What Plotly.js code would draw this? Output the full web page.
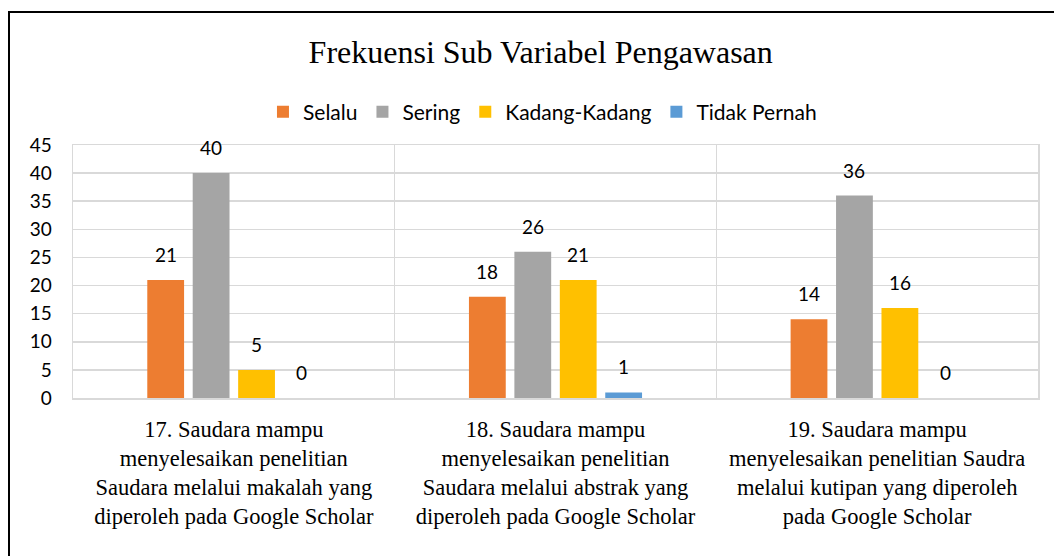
<!DOCTYPE html>
<html>
<head>
<meta charset="utf-8">
<script src="https://cdn.plot.ly/plotly-3.0.1.min.js"></script>
<style>
  html, body { margin: 0; padding: 0; background: #fff; }
  #wrap { position: relative; width: 1054px; height: 556px; overflow: hidden; }
  #chart { width: 1054px; height: 556px; }
  #frame { position: absolute; left: 8px; top: 11px; width: 1046px; height: 545px;
           border-top: 2px solid #000; border-left: 2px solid #000; pointer-events: none; }
</style>
</head>
<body>
<div id="wrap">
  <div id="chart"></div>
  <div id="frame"></div>
</div>
<script>
const chartTitle = "Frekuensi Sub Variabel Pengawasan";
const categories = [
  "17. Saudara mampu<br>menyelesaikan penelitian<br>Saudara melalui makalah yang<br>diperoleh pada Google Scholar",
  "18. Saudara mampu<br>menyelesaikan penelitian<br>Saudara melalui abstrak yang<br>diperoleh pada Google Scholar",
  "19. Saudara mampu<br>menyelesaikan penelitian Saudra<br>melalui kutipan yang diperoleh<br>pada Google Scholar"
];
const seriesNames = ["Selalu", "Sering", "Kadang-Kadang", "Tidak Pernah"];
const selalu = [21, 18, 14];
const sering = [40, 26, 36];
const kadang = [5, 21, 16];
const tidakPernah = [0, 1, 0];
const yTicks = [0, 5, 10, 15, 20, 25, 30, 35, 40, 45];

const seriesValues = [selalu, sering, kadang, tidakPernah];
const colors = ["#ED7D31", "#A5A5A5", "#FFC000", "#5B9BD5"];

const bargap = 0.435;
const bargroupgap = 0.19;
const nSeries = seriesValues.length;
const slot = (1 - bargap) / nSeries;

const traces = seriesValues.map((vals, i) => ({
  type: "bar",
  name: seriesNames[i],
  x: categories,
  y: vals,
  marker: { color: colors[i] },
  hoverinfo: "name+y"
}));

const annotations = [];
seriesValues.forEach((vals, i) => {
  vals.forEach((v, c) => {
    annotations.push({
      xref: "x", yref: "y",
      x: c - (1 - bargap) / 2 + slot * (i + 0.5),
      y: v,
      text: String(v),
      showarrow: false,
      yanchor: "bottom",
      yshift: 12,
      font: { family: "Lato, 'Open Sans', sans-serif", size: 19, color: "#000" }
    });
  });
});

const layout = {
  width: 1054,
  height: 556,
  margin: { l: 73, r: 16, t: 145, b: 158 },
  paper_bgcolor: "#fff",
  plot_bgcolor: "#fff",
  barmode: "group",
  bargap: bargap,
  bargroupgap: bargroupgap,
  title: {
    text: chartTitle,
    font: { family: "'Liberation Serif', 'Times New Roman', serif", size: 32, color: "#000" },
    x: 0.513, xanchor: "center",
    y: 1 - 52 / 556, yanchor: "middle"
  },
  legend: {
    orientation: "h",
    x: 0.4865, xanchor: "center",
    y: 1.13, yanchor: "middle",
    font: { family: "Lato, 'Open Sans', sans-serif", size: 21, color: "#000" },
    traceorder: "normal"
  },
  xaxis: {
    type: "category",
    tickson: "boundaries",
    showgrid: true,
    gridcolor: "#D9D9D9",
    gridwidth: 1.5,
    showline: true,
    linecolor: "#D9D9D9",
    linewidth: 1.5,
    mirror: true,
    ticks: "",
    ticklabelstandoff: 10,
    tickfont: { family: "'Liberation Serif', 'Times New Roman', serif", size: 22.5, color: "#000" },
    fixedrange: true
  },
  yaxis: {
    range: [0, 45],
    tickvals: yTicks,
    showgrid: true,
    gridcolor: "#D9D9D9",
    gridwidth: 1.5,
    zeroline: false,
    showline: true,
    linecolor: "#D9D9D9",
    linewidth: 1.5,
    mirror: true,
    ticks: "",
    ticklabelstandoff: 16,
    tickfont: { family: "Lato, 'Open Sans', sans-serif", size: 19, color: "#000" },
    fixedrange: true
  },
  annotations: annotations,
  showlegend: true
};

Plotly.newPlot("chart", traces, layout, { displayModeBar: false, staticPlot: true });
</script>
</body>
</html>
